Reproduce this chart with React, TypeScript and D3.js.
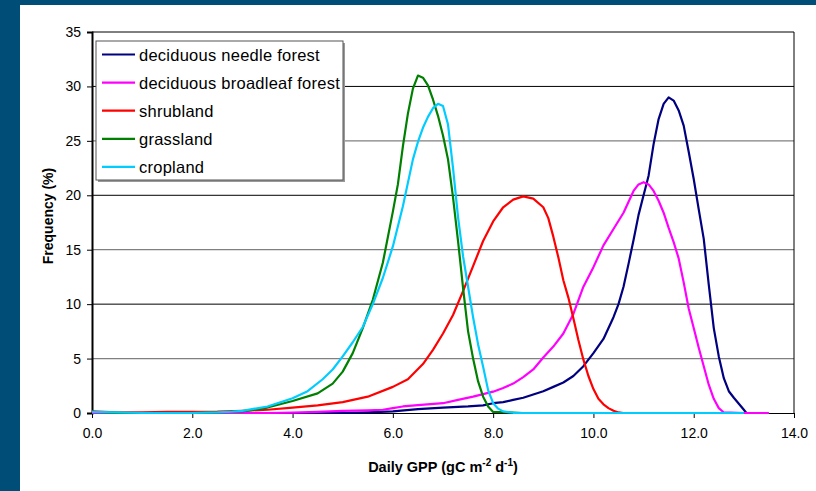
import { useEffect, useRef } from "react";
import * as d3 from "d3";

// frequency (%) of daily GPP as [gpp, freq]
const needleForest = [
  [0, 0], [5.0, 0], [5.5, 0.05], [6.0, 0.15], [6.5, 0.35], [7.0, 0.5], [7.5, 0.6],
  [7.8, 0.7], [8.0, 0.9], [8.2, 1.0], [8.4, 1.2], [8.6, 1.4], [8.8, 1.7], [9.0, 2.0],
  [9.2, 2.4], [9.4, 2.8], [9.6, 3.4], [9.8, 4.3], [10.0, 5.5], [10.2, 6.8], [10.4, 8.8],
  [10.5, 10.0], [10.6, 11.6], [10.7, 13.7], [10.8, 15.9], [10.9, 18.2], [11.0, 20.0],
  [11.1, 21.8], [11.2, 24.7], [11.3, 27.0], [11.4, 28.4], [11.5, 29.0], [11.6, 28.7],
  [11.7, 27.8], [11.8, 26.4], [11.9, 24.0], [12.0, 21.5], [12.1, 18.7], [12.2, 16.0],
  [12.3, 11.8], [12.4, 7.8], [12.5, 5.2], [12.6, 3.2], [12.7, 2.0], [12.8, 1.4],
  [12.9, 0.85], [13.0, 0.3], [13.05, 0],
];

const broadleafForest = [
  [0, 0], [3.5, 0], [4.0, 0.03], [4.5, 0.1], [5.0, 0.2], [5.5, 0.25], [5.8, 0.3],
  [6.0, 0.45], [6.2, 0.6], [6.5, 0.72], [7.0, 0.9], [7.3, 1.2], [7.6, 1.5], [8.0, 1.96],
  [8.2, 2.3], [8.4, 2.7], [8.6, 3.3], [8.8, 4.0], [9.0, 5.1], [9.2, 6.1], [9.4, 7.3],
  [9.6, 9.1], [9.8, 11.6], [10.0, 13.4], [10.2, 15.4], [10.4, 16.9], [10.6, 18.4],
  [10.8, 20.4], [10.9, 21.0], [11.0, 21.2], [11.1, 21.0], [11.2, 20.4], [11.3, 19.5],
  [11.4, 18.4], [11.5, 17.0], [11.6, 15.7], [11.7, 14.2], [11.8, 12.0], [11.9, 9.6],
  [12.0, 7.8], [12.1, 6.0], [12.2, 4.3], [12.3, 2.6], [12.4, 1.3], [12.5, 0.45],
  [12.6, 0.05], [13.0, 0], [13.5, 0],
];

const shrubland = [
  [0, 0.15], [0.5, 0.05], [1.0, 0.05], [1.5, 0.1], [2.0, 0.1], [2.5, 0.12], [3.0, 0.2],
  [3.5, 0.3], [4.0, 0.5], [4.5, 0.7], [5.0, 1.0], [5.5, 1.5], [6.0, 2.4], [6.3, 3.1],
  [6.6, 4.5], [6.8, 5.8], [7.0, 7.3], [7.2, 9.0], [7.4, 11.2], [7.6, 13.5], [7.8, 15.8],
  [8.0, 17.6], [8.2, 18.9], [8.4, 19.6], [8.6, 19.9], [8.8, 19.7], [9.0, 18.9],
  [9.1, 17.9], [9.2, 16.2], [9.3, 14.3], [9.4, 12.2], [9.5, 10.6], [9.6, 8.7], [9.7, 6.7],
  [9.8, 4.9], [9.9, 3.4], [10.0, 2.2], [10.1, 1.3], [10.2, 0.8], [10.3, 0.45],
  [10.4, 0.2], [10.5, 0.05], [10.6, 0],
];

const grassland = [
  [0, 0.1], [0.5, 0], [1.0, 0], [2.0, 0], [2.5, 0.05], [3.0, 0.15], [3.5, 0.5],
  [4.0, 1.1], [4.5, 1.8], [4.8, 2.7], [5.0, 3.8], [5.2, 5.5], [5.4, 7.8], [5.6, 10.4],
  [5.8, 13.8], [6.0, 18.5], [6.1, 21.0], [6.2, 24.5], [6.3, 27.5], [6.4, 29.8],
  [6.5, 31.0], [6.6, 30.8], [6.7, 30.1], [6.8, 28.8], [6.9, 27.3], [7.0, 25.5],
  [7.1, 23.3], [7.2, 19.8], [7.3, 15.8], [7.4, 11.5], [7.5, 7.5], [7.6, 5.0], [7.7, 2.9],
  [7.8, 1.5], [7.9, 0.6], [8.0, 0.1], [8.6, 0],
];

const cropland = [
  [0, 0.1], [0.5, 0.05], [1.0, 0], [2.0, 0], [2.5, 0.05], [2.8, 0.12], [3.0, 0.2],
  [3.5, 0.6], [4.0, 1.35], [4.3, 2.0], [4.6, 3.1], [4.8, 4.0], [5.0, 5.2], [5.2, 6.5],
  [5.4, 7.9], [5.6, 10.0], [5.8, 12.4], [6.0, 15.3], [6.2, 19.0], [6.4, 23.3],
  [6.5, 24.9], [6.6, 26.2], [6.7, 27.2], [6.8, 28.0], [6.9, 28.4], [7.0, 28.2],
  [7.1, 26.5], [7.2, 22.5], [7.3, 18.0], [7.4, 14.4], [7.5, 11.6], [7.6, 8.8], [7.7, 6.3],
  [7.8, 4.25], [7.9, 2.1], [8.0, 0.9], [8.1, 0.4], [8.2, 0.15], [8.4, 0.02], [9.0, 0],
  [13.0, 0],
];

const seriesNames = [
  "deciduous needle forest",
  "deciduous broadleaf forest",
  "shrubland",
  "grassland",
  "cropland",
];
const seriesData = [needleForest, broadleafForest, shrubland, grassland, cropland];
const seriesColors = ["#000080", "#ff00ff", "#ff0000", "#008000", "#00ccff"];

const xTicks = [0, 2, 4, 6, 8, 10, 12, 14];
const yTicks = [0, 5, 10, 15, 20, 25, 30, 35];

const W = 816;
const H = 491;
const margin = { top: 32, right: 22, bottom: 78, left: 92 };
const font = "'Liberation Sans', Arial, sans-serif";

const App = () => {
  const ref = useRef<SVGSVGElement>(null);

  useEffect(() => {
    const svg = d3.select(ref.current);
    svg.selectAll("*").remove();

    // slide frame
    svg.append("rect").attr("width", W).attr("height", H).attr("fill", "#004d78");
    svg.append("rect").attr("x", 20).attr("y", 5).attr("width", W - 20).attr("height", H - 5).attr("fill", "#fff");

    const x = d3.scaleLinear().domain([0, 14]).range([margin.left, W - margin.right]);
    const y = d3.scaleLinear().domain([0, 35]).range([H - margin.bottom, margin.top]);

    // grid
    svg
      .append("g")
      .selectAll("line")
      .data(yTicks.filter((t) => t > 0 && t < 35))
      .enter()
      .append("line")
      .attr("x1", x(0))
      .attr("x2", x(14))
      .attr("y1", (d) => y(d))
      .attr("y2", (d) => y(d))
      .attr("stroke", (d) => (d % 10 === 0 ? "#000" : "#808080"))
      .attr("stroke-width", (d) => (d % 10 === 0 ? 1 : 1.3));

    // plot frame top/right
    svg
      .append("path")
      .attr("d", `M${x(0)},${y(35)}H${x(14)}V${y(0)}`)
      .attr("fill", "none")
      .attr("stroke", "#000");

    // y axis
    const yAxis = svg
      .append("g")
      .attr("transform", `translate(${x(0)},0)`)
      .call(d3.axisLeft(y).tickValues(yTicks).tickSize(5).tickPadding(6));
    yAxis.select(".domain").attr("stroke-width", 2);
    yAxis.selectAll("text").attr("font-size", 14).attr("font-family", font).attr("fill", "#000");

    // x axis
    const xAxis = svg
      .append("g")
      .attr("transform", `translate(0,${y(0)})`)
      .call(
        d3
          .axisBottom(x)
          .tickValues(xTicks)
          .tickSize(5)
          .tickPadding(10)
          .tickFormat(d3.format(".1f"))
      );
    xAxis.selectAll("text").attr("font-size", 14).attr("font-family", font).attr("fill", "#000");

    // lines
    const line = d3
      .line<number[]>()
      .x((d) => x(d[0]))
      .y((d) => y(d[1]));

    svg
      .append("g")
      .selectAll("path")
      .data(seriesData)
      .enter()
      .append("path")
      .attr("d", (d) => line(d))
      .attr("fill", "none")
      .attr("stroke", (_, i) => seriesColors[i])
      .attr("stroke-width", 2.2)
      .attr("stroke-linejoin", "round");

    // axis titles
    svg
      .append("text")
      .attr("transform", `translate(53,216) rotate(-90)`)
      .attr("text-anchor", "middle")
      .attr("font-family", font)
      .attr("font-weight", "bold")
      .attr("font-size", 14)
      .text("Frequency (%)");

    const xt = svg
      .append("text")
      .attr("x", 443)
      .attr("y", 472)
      .attr("text-anchor", "middle")
      .attr("font-family", font)
      .attr("font-weight", "bold")
      .attr("font-size", 14.5);
    xt.append("tspan").text("Daily GPP (gC m");
    xt.append("tspan").attr("dy", -6).attr("font-size", 10).text("-2");
    xt.append("tspan").attr("dy", 6).text(" d");
    xt.append("tspan").attr("dy", -6).attr("font-size", 10).text("-1");
    xt.append("tspan").attr("dy", 6).text(")");

    // legend
    const lg = svg.append("g").attr("transform", "translate(96,41)");
    lg.append("rect").attr("x", 2).attr("y", 2).attr("width", 247).attr("height", 139).attr("fill", "#999");
    lg.append("rect").attr("width", 247).attr("height", 139).attr("fill", "#fff").attr("stroke", "#555");
    const items = lg
      .selectAll("g.item")
      .data(seriesNames)
      .enter()
      .append("g")
      .attr("class", "item")
      .attr("transform", (_, i) => `translate(0,${13.5 + i * 28.1})`);
    items
      .append("line")
      .attr("x1", 6)
      .attr("x2", 39)
      .attr("stroke", (_, i) => seriesColors[i])
      .attr("stroke-width", 2.2);
    items
      .append("text")
      .attr("x", 43)
      .attr("y", 6)
      .attr("font-family", font)
      .attr("font-size", 16.5)
      .attr("letter-spacing", 0.25)
      .text((d) => d);
  }, []);

  return (
    <div style={{ position: "absolute", left: 0, top: 0 }}>
      <svg ref={ref} width={W} height={H} style={{ display: "block" }} />
    </div>
  );
};

export default App;
